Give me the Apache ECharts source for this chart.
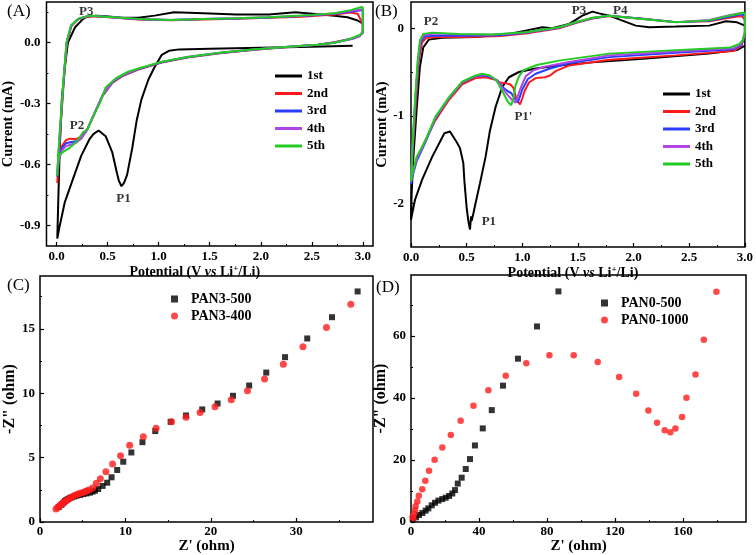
<!DOCTYPE html>
<html><head><meta charset="utf-8">
<script src="https://cdn.jsdelivr.net/npm/echarts@6/dist/echarts.min.js"></script>
<style>html,body{margin:0;padding:0;background:#fff}#c{width:756px;height:555px}</style>
</head><body><div id="c"></div>
<script>
const FONT = 'Liberation Serif';

// ---------- Panel A: CV curves [V, mA] ----------
const cycleNames = ['1st', '2nd', '3rd', '4th', '5th'];
const cycleColors = ['#000000', '#ff1a1a', '#2a3cff', '#b044e6', '#22cc22'];

const A_1st = [[2.9,-0.015],[2.5,-0.02],[2.0,-0.025],[1.5,-0.03],[1.2,-0.033],[1.1,-0.04],[1.03,-0.06],[0.96,-0.12],[0.9,-0.18],[0.83,-0.28],[0.785,-0.38],[0.74,-0.52],[0.69,-0.65],[0.66,-0.69],[0.635,-0.706],[0.61,-0.68],[0.59,-0.64],[0.545,-0.54],[0.48,-0.46],[0.41,-0.432],[0.36,-0.45],[0.32,-0.476],[0.24,-0.557],[0.16,-0.67],[0.08,-0.784],[0.03,-0.9],[0.006,-0.963],[0.0,-0.97],
 [0.016,-0.77],[0.03,-0.52],[0.05,-0.28],[0.08,-0.12],[0.11,0.0],[0.18,0.076],[0.26,0.117],[0.3,0.128],[0.385,0.133],[0.48,0.13],[0.64,0.122],[0.8,0.122],[0.96,0.133],[1.15,0.15],[1.44,0.145],[1.76,0.138],[2.08,0.138],[2.34,0.15],[2.56,0.14],[2.72,0.132],[2.85,0.125],[2.95,0.109],[3.0,0.093]];
const A_2nd = [[3.0,0.09],[3.0,0.05],[2.97,0.035],[2.9,0.02],[2.72,0.002],[2.56,-0.01],[2.24,-0.022],[1.92,-0.036],[1.6,-0.052],[1.28,-0.073],[1.03,-0.098],[0.8,-0.132],[0.64,-0.166],[0.545,-0.198],[0.45,-0.262],[0.37,-0.35],[0.3,-0.425],[0.24,-0.462],[0.19,-0.474],[0.13,-0.472],[0.09,-0.48],[0.05,-0.51],[0.02,-0.58],[0.006,-0.69],
 [0.015,-0.6],[0.035,-0.44],[0.068,-0.2],[0.1,0.0],[0.145,0.082],[0.21,0.115],[0.32,0.13],[0.48,0.126],[0.8,0.114],[1.12,0.11],[1.44,0.114],[1.76,0.118],[2.08,0.122],[2.4,0.128],[2.72,0.138],[2.88,0.148],[2.95,0.142],[3.0,0.09]];
const A_3rd = [[3.0,0.16],[3.0,0.05],[2.97,0.033],[2.9,0.02],[2.72,0.001],[2.56,-0.01],[2.24,-0.021],[1.92,-0.035],[1.6,-0.051],[1.28,-0.072],[1.03,-0.096],[0.8,-0.13],[0.64,-0.163],[0.545,-0.195],[0.45,-0.26],[0.37,-0.348],[0.3,-0.428],[0.24,-0.47],[0.19,-0.485],[0.13,-0.49],[0.09,-0.495],[0.05,-0.52],[0.02,-0.58],[0.006,-0.66],
 [0.015,-0.58],[0.033,-0.44],[0.066,-0.2],[0.098,0.0],[0.142,0.083],[0.21,0.116],[0.32,0.132],[0.48,0.127],[0.8,0.115],[1.12,0.111],[1.44,0.116],[1.76,0.119],[2.08,0.124],[2.4,0.131],[2.72,0.142],[2.88,0.152],[2.97,0.158],[3.0,0.16]];
const A_4th = [[3.0,0.165],[3.0,0.05],[2.97,0.032],[2.9,0.019],[2.72,0.0],[2.56,-0.01],[2.24,-0.021],[1.92,-0.034],[1.6,-0.05],[1.28,-0.071],[1.03,-0.095],[0.8,-0.129],[0.64,-0.162],[0.545,-0.193],[0.45,-0.258],[0.37,-0.347],[0.3,-0.428],[0.24,-0.472],[0.19,-0.492],[0.13,-0.502],[0.09,-0.51],[0.05,-0.53],[0.02,-0.58],[0.006,-0.64],
 [0.015,-0.57],[0.031,-0.44],[0.065,-0.2],[0.097,0.0],[0.141,0.084],[0.21,0.117],[0.32,0.133],[0.48,0.128],[0.8,0.116],[1.12,0.112],[1.44,0.117],[1.76,0.12],[2.08,0.125],[2.4,0.132],[2.72,0.144],[2.88,0.156],[2.97,0.162],[3.0,0.165]];
const A_5th = [[3.0,0.177],[3.0,0.06],[2.98,0.04],[2.92,0.028],[2.85,0.015],[2.72,0.0],[2.56,-0.01],[2.24,-0.021],[1.92,-0.034],[1.6,-0.05],[1.28,-0.07],[1.03,-0.094],[0.8,-0.127],[0.7,-0.143],[0.58,-0.175],[0.48,-0.22],[0.42,-0.3],[0.35,-0.37],[0.3,-0.427],[0.26,-0.44],[0.19,-0.49],[0.13,-0.516],[0.064,-0.537],[0.03,-0.55],[0.015,-0.58],[0.006,-0.655],
 [0.015,-0.55],[0.03,-0.44],[0.064,-0.2],[0.096,0.0],[0.14,0.084],[0.21,0.117],[0.32,0.133],[0.48,0.128],[0.8,0.117],[1.12,0.112],[1.44,0.117],[1.76,0.12],[2.08,0.125],[2.4,0.133],[2.72,0.145],[2.88,0.16],[3.0,0.177]];
const A_notes = [[0.29,0.155,'P3'],[0.2,-0.41,'P2'],[0.655,-0.765,'P1']];

// ---------- Panel B: CV curves [V, mA] ----------
const B_1st = [[3.0,-0.2],[2.93,-0.25],[2.68,-0.29],[2.08,-0.35],[1.63,-0.39],[1.33,-0.425],[1.12,-0.46],[0.97,-0.5],[0.88,-0.56],[0.82,-0.67],[0.76,-0.9],[0.71,-1.165],[0.67,-1.47],[0.62,-1.77],[0.58,-2.0],[0.56,-2.12],[0.545,-2.2],[0.54,-2.15],[0.53,-2.3],[0.515,-2.2],[0.5,-2.05],[0.48,-1.75],[0.47,-1.54],[0.44,-1.37],[0.41,-1.3],[0.35,-1.18],[0.3,-1.2],[0.19,-1.47],[0.1,-1.73],[0.036,-1.96],[0.006,-2.15],[0.0,-2.19],
 [0.006,-1.89],[0.02,-1.5],[0.05,-0.94],[0.08,-0.44],[0.11,-0.22],[0.16,-0.13],[0.28,-0.11],[0.58,-0.1],[0.88,-0.065],[1.03,-0.027],[1.18,0.011],[1.27,0.0],[1.42,0.05],[1.48,0.095],[1.54,0.144],[1.63,0.19],[1.69,0.17],[1.78,0.144],[1.9,0.087],[2.02,0.03],[2.14,0.011],[2.38,0.019],[2.68,0.03],[2.83,0.08],[2.93,0.068],[3.0,0.03]];
const B_2nd = [[3.0,0.1],[3.0,-0.065],[2.97,-0.2],[2.9,-0.26],[2.38,-0.31],[1.78,-0.36],[1.42,-0.425],[1.3,-0.49],[1.25,-0.54],[1.2,-0.56],[1.12,-0.57],[1.06,-0.62],[1.02,-0.72],[1.0,-0.8],[0.98,-0.87],[0.95,-0.82],[0.92,-0.68],[0.89,-0.64],[0.85,-0.63],[0.8,-0.62],[0.76,-0.59],[0.67,-0.56],[0.58,-0.57],[0.46,-0.64],[0.34,-0.82],[0.22,-1.05],[0.13,-1.28],[0.05,-1.5],[0.012,-1.66],[0.0,-1.72],
 [0.015,-1.4],[0.045,-0.82],[0.07,-0.37],[0.1,-0.16],[0.14,-0.11],[0.25,-0.1],[0.5,-0.1],[0.8,-0.09],[1.03,-0.06],[1.33,0.0],[1.48,0.06],[1.63,0.11],[1.78,0.14],[2.08,0.11],[2.38,0.07],[2.68,0.08],[2.86,0.12],[2.97,0.14],[3.0,0.1]];
const B_3rd = [[3.0,0.14],[3.0,-0.06],[2.97,-0.19],[2.9,-0.24],[2.38,-0.28],[1.78,-0.33],[1.42,-0.4],[1.25,-0.46],[1.12,-0.52],[1.05,-0.58],[1.0,-0.7],[0.96,-0.85],[0.93,-0.8],[0.9,-0.74],[0.87,-0.72],[0.83,-0.68],[0.78,-0.6],[0.7,-0.55],[0.64,-0.54],[0.58,-0.55],[0.46,-0.62],[0.34,-0.8],[0.22,-1.03],[0.13,-1.3],[0.05,-1.52],[0.012,-1.7],[0.0,-1.78],
 [0.012,-1.42],[0.04,-0.82],[0.065,-0.37],[0.09,-0.15],[0.13,-0.09],[0.25,-0.085],[0.5,-0.085],[0.8,-0.08],[1.03,-0.052],[1.33,0.005],[1.48,0.065],[1.63,0.115],[1.78,0.142],[2.08,0.108],[2.38,0.07],[2.68,0.085],[2.86,0.13],[2.97,0.16],[3.0,0.14]];
const B_4th = [[3.0,0.17],[3.0,-0.05],[2.97,-0.18],[2.9,-0.23],[2.38,-0.265],[1.78,-0.31],[1.42,-0.385],[1.2,-0.44],[1.1,-0.48],[1.03,-0.55],[0.98,-0.7],[0.94,-0.85],[0.91,-0.82],[0.88,-0.78],[0.865,-0.76],[0.83,-0.7],[0.78,-0.6],[0.7,-0.54],[0.64,-0.53],[0.58,-0.545],[0.46,-0.615],[0.34,-0.8],[0.22,-1.02],[0.13,-1.29],[0.05,-1.5],[0.012,-1.68],[0.0,-1.76],
 [0.012,-1.4],[0.038,-0.82],[0.062,-0.37],[0.085,-0.14],[0.12,-0.075],[0.22,-0.06],[0.43,-0.07],[0.73,-0.075],[1.03,-0.048],[1.33,0.008],[1.48,0.066],[1.63,0.118],[1.78,0.143],[2.08,0.107],[2.38,0.07],[2.68,0.095],[2.86,0.15],[2.97,0.175],[3.0,0.17]];
const B_5th = [[3.0,0.18],[3.0,-0.05],[2.98,-0.14],[2.95,-0.18],[2.87,-0.22],[2.38,-0.25],[1.78,-0.29],[1.33,-0.37],[1.13,-0.42],[1.01,-0.48],[0.97,-0.55],[0.94,-0.65],[0.92,-0.8],[0.9,-0.88],[0.87,-0.84],[0.83,-0.74],[0.77,-0.6],[0.71,-0.54],[0.64,-0.52],[0.58,-0.54],[0.46,-0.61],[0.34,-0.79],[0.22,-1.01],[0.13,-1.28],[0.05,-1.47],[0.012,-1.66],[0.0,-1.75],
 [0.012,-1.39],[0.036,-0.82],[0.06,-0.37],[0.08,-0.14],[0.11,-0.065],[0.19,-0.05],[0.43,-0.065],[0.73,-0.072],[1.03,-0.045],[1.33,0.011],[1.48,0.068],[1.63,0.12],[1.78,0.144],[2.08,0.106],[2.38,0.068],[2.68,0.09],[2.86,0.144],[3.0,0.18]];
const B_notes = [[0.18,0.07,'P2'],[1.51,0.2,'P3'],[1.88,0.2,'P4'],[1.01,-1.015,"P1'"],[0.7,-2.21,'P1']];

// ---------- Panel C: Nyquist [Z', -Z''] ----------
const C_names = ['PAN3-500', 'PAN3-400'];
const C_pan3_500 = [[2.2,1.16],[2.53,1.34],[2.75,1.5],[2.92,1.63],[3.1,1.72],[3.31,1.79],[3.5,1.86],[3.7,1.91],[4.0,1.98],[4.29,2.04],[4.7,2.1],[5.07,2.17],[5.45,2.22],[5.85,2.28],[6.15,2.36],[6.43,2.43],[6.82,2.56],[7.33,2.8],[7.87,3.05],[8.38,3.47],[9.04,4.04],[9.75,4.68],[10.7,5.4],[12.0,6.2],[13.5,7.06],[15.3,7.78],[17.1,8.27],[19.0,8.74],[20.8,9.2],[22.6,9.8],[24.5,10.6],[26.5,11.6],[28.7,12.8],[31.3,14.25],[34.2,15.9],[37.2,17.9]];
const C_pan3_400 = [[1.87,1.0],[2.07,1.12],[2.26,1.24],[2.45,1.35],[2.65,1.45],[2.85,1.55],[3.04,1.63],[3.25,1.75],[3.5,1.86],[3.8,1.97],[4.09,2.07],[4.4,2.15],[4.68,2.23],[5.0,2.3],[5.26,2.35],[5.5,2.42],[5.77,2.48],[6.16,2.64],[6.6,3.0],[7.07,3.35],[7.72,3.9],[8.5,4.5],[9.43,5.15],[10.5,5.95],[12.1,6.62],[13.6,7.27],[15.4,7.78],[17.1,8.14],[18.75,8.5],[20.5,8.94],[22.4,9.5],[24.3,10.2],[26.3,11.1],[28.5,12.25],[30.8,13.6],[33.55,15.1],[36.4,16.9]];

// ---------- Panel D: Nyquist [Z', -Z''] ----------
const D_names = ['PAN0-500', 'PAN0-1000'];
const D_pan0_500 = [[1.0,1.0],[2.9,1.5],[4.7,2.26],[6.7,2.9],[8.6,3.66],[10.2,4.4],[12.2,5.38],[14.1,6.2],[16.1,6.9],[18.4,7.4],[20.4,7.85],[22.4,8.4],[24.3,9.2],[25.9,10.3],[27.5,12.4],[29.8,14.3],[32.2,17.1],[34.7,20.3],[37.6,24.7],[42.2,30.2],[47.5,36.1],[54.1,44.0],[62.9,52.7],[74.1,63.1],[86.7,74.4]];
const D_pan0_1000 = [[1.0,1.6],[1.4,1.2],[1.8,2.6],[2.4,3.8],[2.7,5.1],[3.7,6.6],[4.6,8.5],[6.6,10.6],[8.4,13.3],[10.6,16.5],[13.9,20.1],[18.4,24.0],[23.4,28.1],[29.2,32.7],[36.7,37.5],[45.5,42.5],[55.7,47.2],[67.8,51.2],[81.4,53.8],[95.7,53.8],[109.8,51.6],[122.4,46.8],[132.4,41.4],[139.6,36.0],[144.7,32.0],[149.2,29.6],[152.5,29.0],[155.5,30.2],[159.4,33.9],[162.0,40.1],[167.3,47.6],[172.2,58.8],[179.6,74.3]];

// ---------- tick values ----------
const A_xTicks = [0,0.5,1.0,1.5,2.0,2.5,3.0];
const A_xMinor = [0.25,0.75,1.25,1.75,2.25,2.75];
const A_yTicks = [0,-0.3,-0.6,-0.9];
const A_yMinor = [0.15,-0.15,-0.45,-0.75];
const B_xTicks = [0,0.5,1.0,1.5,2.0,2.5,3.0];
const B_xMinor = [0.25,0.75,1.25,1.75,2.25,2.75];
const B_yTicks = [0,-1,-2];
const B_yMinor = [-0.5,-1.5];
const C_xTicks = [0,10,20,30];
const C_xMinor = [5,15,25,35];
const C_yTicks = [0,5,10,15];
const C_yMinor = [2.5,7.5,12.5,17.5];
const D_xTicks = [0,40,80,120,160];
const D_xMinor = [20,60,100,140,180];
const D_yTicks = [0,20,40,60];
const D_yMinor = [10,30,50,70];

const labelStyle = {color:'#000', fontFamily:FONT, fontWeight:'bold', fontSize:13};
const nameStyle = (size, pad) => ({color:'#000', fontFamily:FONT, fontWeight:'bold', fontSize:size, padding:pad || 0});
const potentialName = '{b|Potential (V }{i|vs}{b| Li}{s|+}{b|/Li)}';
const potentialRich = pad => ({
  padding: pad,
  rich: {
    b:{fontFamily:FONT, fontWeight:'bold', fontSize:14, color:'#000', lineHeight:16},
    i:{fontFamily:FONT, fontWeight:'bold', fontStyle:'italic', fontSize:14, color:'#000', lineHeight:16},
    s:{fontFamily:FONT, fontWeight:'bold', fontSize:9, color:'#000', verticalAlign:'top', lineHeight:9}
  }
});

const xAxes = [], yAxes = [];
function addAxis(list, dim, grid, min, max, majors, minors, fmt, name, nameGap, margin, nts) {
  const pos = dim === 'x' ? 'bottom' : 'left';
  list.push({
    type:'value', gridIndex:grid, min, max, position:pos,
    axisLine:{show:false, onZero:false}, splitLine:{show:false},
    axisTick:{show:true, inside:true, length:4, interval:0, customValues:majors, lineStyle:{color:'#000', width:1.2}},
    axisLabel:{show:true, interval:0, customValues:majors, formatter:fmt, margin, ...labelStyle},
    name, nameLocation:'middle', nameGap, nameTextStyle:nts
  });
  list.push({
    type:'value', gridIndex:grid, min, max, position:pos,
    axisLine:{show:false, onZero:false}, splitLine:{show:false}, axisLabel:{show:false},
    axisTick:{show:true, inside:true, length:2, interval:0, customValues:minors, lineStyle:{color:'#000', width:1}}
  });
}
const f1 = v => v.toFixed(1);
const f0 = v => String(Math.round(v));
addAxis(xAxes,'x',0,-0.1,3.1,A_xTicks,A_xMinor,f1,potentialName,13,4,potentialRich([0,30,0,0]));
addAxis(yAxes,'y',0,-1.0,0.2,A_yTicks,A_yMinor,f1,'Current (mA)',25,6,nameStyle(14.5));
addAxis(xAxes,'x',1,0,3.0,B_xTicks,B_xMinor,f1,potentialName,13,4,potentialRich([0,10,0,0]));
addAxis(yAxes,'y',1,-2.5,0.3,B_yTicks,B_yMinor,f0,'Current (mA)',16,7,nameStyle(14.5));
addAxis(xAxes,'x',2,0,39,C_xTicks,C_xMinor,f0,"Z' (ohm)",15,3,nameStyle(15));
addAxis(yAxes,'y',2,0,19.1,C_yTicks,C_yMinor,f0,'-Z" (ohm)',19,5,nameStyle(16));
addAxis(xAxes,'x',3,0,197,D_xTicks,D_xMinor,f0,"Z' (ohm)",15,3,nameStyle(15));
addAxis(yAxes,'y',3,0,79.7,D_yTicks,D_yMinor,f0,'-Z" (ohm)',19,5,nameStyle(16));

const series = [];
const A_cycles = [A_1st, A_2nd, A_3rd, A_4th, A_5th];
const B_cycles = [B_1st, B_2nd, B_3rd, B_4th, B_5th];
function addCV(cycles, g) {
  cycles.forEach((d, i) => series.push({
    type:'line', name:cycleNames[i], xAxisIndex:2*g, yAxisIndex:2*g, data:d,
    showSymbol:false, symbol:'none', lineStyle:{color:cycleColors[i], width:2}, itemStyle:{color:cycleColors[i]},
    z: 2 + i, animation:false
  }));
}
addCV(A_cycles, 0);
addCV(B_cycles, 1);
function addNotes(notes, g) {
  series.push({
    type:'scatter', xAxisIndex:2*g, yAxisIndex:2*g, symbolSize:1, itemStyle:{color:'rgba(0,0,0,0)'},
    data: notes.map(n => ({value:[n[0], n[1]], name:n[2]})), silent:true, z:20,
    label:{show:true, position:'inside', formatter:p => p.name, color:'#000', fontFamily:FONT, fontWeight:'bold', fontSize:13}
  });
}
addNotes(A_notes, 0);
addNotes(B_notes, 1);
series.push({type:'scatter', name:C_names[0], xAxisIndex:4, yAxisIndex:4, data:C_pan3_500, symbol:'rect', symbolSize:6, itemStyle:{color:'#000'}});
series.push({type:'scatter', name:C_names[1], xAxisIndex:4, yAxisIndex:4, data:C_pan3_400, symbol:'circle', symbolSize:7, itemStyle:{color:'#ff1a1a'}});
series.push({type:'scatter', name:D_names[0], xAxisIndex:6, yAxisIndex:6, data:D_pan0_500, symbol:'rect', symbolSize:6, itemStyle:{color:'#000'}});
series.push({type:'scatter', name:D_names[1], xAxisIndex:6, yAxisIndex:6, data:D_pan0_1000, symbol:'circle', symbolSize:6.5, itemStyle:{color:'#ff1a1a'}});

const gridBase = {show:true, borderColor:'#000', borderWidth:1.5, containLabel:false};
const legendText = {color:'#000', fontFamily:FONT, fontWeight:'bold', fontSize:13, lineHeight:14};
const cvLegend = (left, top) => ({
  orient:'vertical', left, top, itemWidth:27, itemHeight:3, itemGap:3.5, symbolKeepAspect:false,
  selectedMode:false, textStyle:legendText, itemStyle:{borderWidth:0},
  data: cycleNames.map(n => ({name:n, icon:'rect'}))
});
const nyLegend = (left, top, names) => ({
  orient:'vertical', left, top, itemWidth:7, itemHeight:7, itemGap:3,
  selectedMode:false, textStyle:{...legendText, fontSize:14, padding:[0,0,0,8]},
  data: [{name:names[0], icon:'rect'}, {name:names[1], icon:'circle'}]
});

const option = {
  animation:false,
  backgroundColor:'#fff',
  textStyle:{fontFamily:FONT},
  grid:[
    {...gridBase, left:40, top:2, width:333, height:244},
    {...gridBase, left:411, top:2, width:334, height:245},
    {...gridBase, left:40, top:276, width:333, height:246},
    {...gridBase, left:411, top:275, width:335, height:247}
  ],
  xAxis:xAxes, yAxis:yAxes,
  legend:[cvLegend(270,64), cvLegend(658,82), nyLegend(166,287,C_names), nyLegend(596,291,D_names)],
  graphic:[
    {type:'text', left:7, top:3, style:{text:'(A)', font:'17px "Liberation Serif"', fill:'#000'}},
    {type:'text', left:375, top:3, style:{text:'(B)', font:'17px "Liberation Serif"', fill:'#000'}},
    {type:'text', left:7, top:277, style:{text:'(C)', font:'17px "Liberation Serif"', fill:'#000'}},
    {type:'text', left:376, top:279, style:{text:'(D)', font:'17px "Liberation Serif"', fill:'#000'}}
  ],
  series
};
const chart = echarts.init(document.getElementById('c'), null, {renderer:'canvas'});
chart.setOption(option);
</script>
</body></html>
